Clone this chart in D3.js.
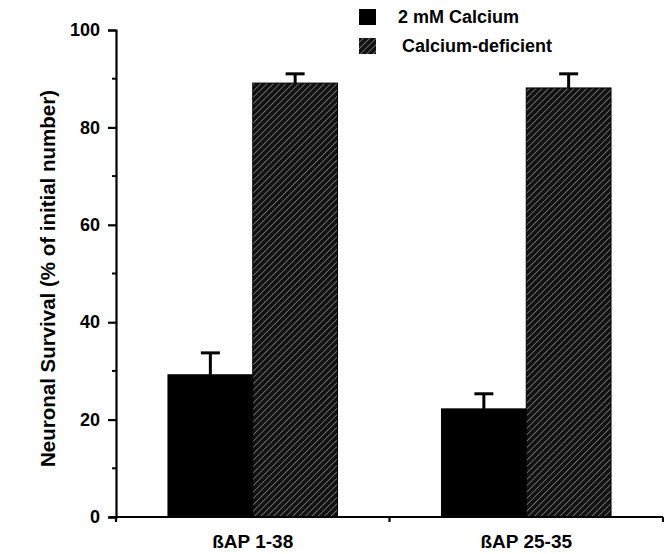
<!DOCTYPE html>
<html>
<head>
  <meta charset="utf-8">
  <title>Neuronal Survival</title>
  <style>
    body { margin: 0; background: #fff; }
    svg { display: block; font-family: "Liberation Sans", Arial, sans-serif; font-weight: bold; }
  </style>
</head>
<body>
  <div id="chart"></div>

  <script src="https://d3js.org/d3.v7.min.js"></script>
  <script>
    // Data
    const groups = ["ßAP 1-38", "ßAP 25-35"];
    const seriesNames = ["2 mM Calcium", "Calcium-deficient"];
    const calciumValues = [29.2, 22.2];
    const calciumErrors = [4.5, 3.1];
    const deficientValues = [89.1, 88.1];
    const deficientErrors = [1.9, 2.9];
    const yTicks = [0, 20, 40, 60, 80, 100];
    const yMinorTicks = [10, 30, 50, 70, 90];

    const width = 664, height = 554;
    const margin = { top: 30, right: 1, bottom: 37, left: 116 };

    const svg = d3.select("#chart").append("svg")
      .attr("width", width)
      .attr("height", height);

    // hatch pattern for the calcium-deficient bars
    const defs = svg.append("defs");
    const pat = defs.append("pattern")
      .attr("id", "hatch")
      .attr("patternUnits", "userSpaceOnUse")
      .attr("width", 4.5)
      .attr("height", 4.5)
      .attr("patternTransform", "rotate(45)");
    pat.append("rect").attr("width", 4.5).attr("height", 4.5).attr("fill", "#111");
    pat.append("line")
      .attr("x1", 0).attr("y1", 0).attr("x2", 0).attr("y2", 4.5)
      .attr("stroke", "#aaa").attr("stroke-width", 1.1);

    const x0 = d3.scaleBand()
      .domain(groups)
      .range([margin.left, width - margin.right])
      .paddingInner(0)
      .paddingOuter(0);

    const groupWidth = x0.bandwidth() * 0.62;
    const x1 = d3.scaleBand()
      .domain(seriesNames)
      .range([0, groupWidth]);

    const y = d3.scaleLinear()
      .domain([0, 100])
      .range([height - margin.bottom, margin.top]);

    const fills = ["#000", "url(#hatch)"];

    const rows = groups.map((g, i) => [
      { group: g, series: seriesNames[0], value: calciumValues[i], err: calciumErrors[i] },
      { group: g, series: seriesNames[1], value: deficientValues[i], err: deficientErrors[i] }
    ]).flat();

    const barX = d => x0(d.group) + (x0.bandwidth() - groupWidth) / 2 + x1(d.series);

    // error bars (drawn under the bars so they start at the bar top)
    const err = svg.append("g").attr("stroke", "#000");
    rows.forEach(d => {
      const cx = barX(d) + x1.bandwidth() / 2;
      err.append("line")
        .attr("x1", cx).attr("x2", cx)
        .attr("y1", y(d.value)).attr("y2", y(d.value + d.err))
        .attr("stroke-width", 3);
      err.append("line")
        .attr("x1", cx - 9.5).attr("x2", cx + 9.5)
        .attr("y1", y(d.value + d.err)).attr("y2", y(d.value + d.err))
        .attr("stroke-width", 3);
    });

    svg.append("g").selectAll("rect")
      .data(rows)
      .join("rect")
      .attr("x", barX)
      .attr("y", d => y(d.value))
      .attr("width", x1.bandwidth())
      .attr("height", d => y(0) - y(d.value))
      .attr("fill", d => fills[seriesNames.indexOf(d.series)])
      .attr("stroke", "#000")
      .attr("stroke-width", 1);

    // y axis
    const yAxis = svg.append("g")
      .attr("transform", `translate(${margin.left},0)`)
      .call(d3.axisLeft(y).tickValues(yTicks).tickSize(8).tickPadding(8));
    yAxis.select(".domain").attr("stroke-width", 2.2);
    yAxis.selectAll(".tick line").attr("stroke-width", 2.2);
    yAxis.selectAll(".tick text")
      .attr("font-size", 18).attr("font-weight", "bold")
      .attr("font-family", "'Liberation Sans', Arial, sans-serif");

    svg.append("g").selectAll("line")
      .data(yMinorTicks)
      .join("line")
      .attr("x1", margin.left - 4).attr("x2", margin.left)
      .attr("y1", d => y(d)).attr("y2", d => y(d))
      .attr("stroke", "#000").attr("stroke-width", 2);

    // x axis: ticks on the category boundaries
    const xEdges = [x0(groups[0]), x0(groups[1]), x0(groups[1]) + x0.bandwidth()];
    const xAxis = svg.append("g");
    xAxis.append("line")
      .attr("x1", margin.left - 6).attr("x2", width - margin.right)
      .attr("y1", y(0)).attr("y2", y(0))
      .attr("stroke", "#000").attr("stroke-width", 2.2);
    xAxis.selectAll(".xt")
      .data(xEdges)
      .join("line")
      .attr("class", "xt")
      .attr("x1", d => d).attr("x2", d => d)
      .attr("y1", y(0)).attr("y2", y(0) + 5)
      .attr("stroke", "#000").attr("stroke-width", 2.2);

    svg.append("g").selectAll("text")
      .data(groups)
      .join("text")
      .attr("x", d => x0(d) + x0.bandwidth() / 2)
      .attr("y", 548)
      .attr("text-anchor", "middle")
      .attr("font-size", 19)
      .text(d => d);

    // y title
    svg.append("text")
      .attr("transform", `translate(55,${(margin.top + height - margin.bottom) / 2 + 5}) rotate(-90)`)
      .attr("text-anchor", "middle")
      .attr("font-size", 20.5)
      .text("Neuronal Survival (% of initial number)");

    // legend
    const legend = svg.append("g");
    seriesNames.forEach((name, i) => {
      legend.append("rect")
        .attr("x", 359).attr("y", 9 + i * 29)
        .attr("width", 17).attr("height", 16)
        .attr("fill", fills[i]);
      legend.append("text")
        .attr("x", 398 + i * 4).attr("y", 23 + i * 29)
        .attr("font-size", 18)
        .text(name);
    });
  </script>
</body>
</html>
